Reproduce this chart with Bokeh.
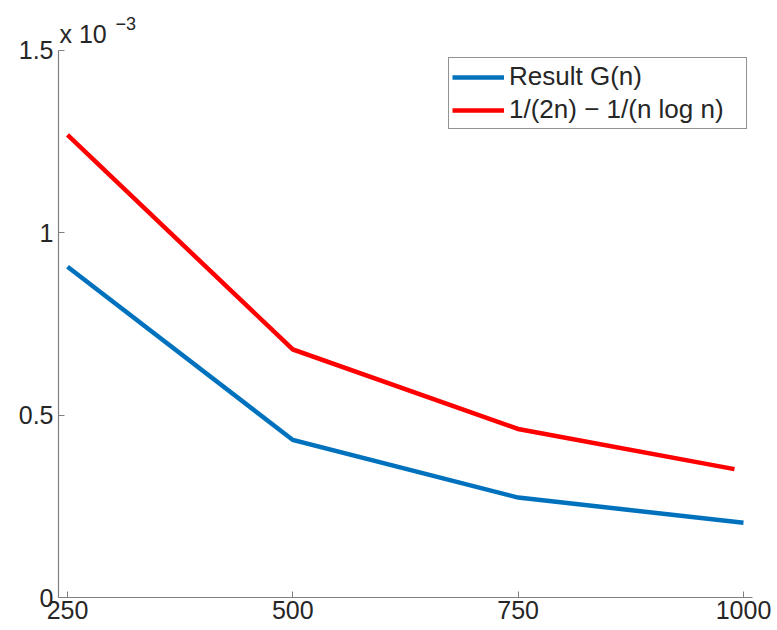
from bokeh.plotting import figure
from bokeh.models import Range1d, FixedTicker, Label, Legend, LegendItem
from bokeh.embed import file_html
from bokeh.resources import INLINE

# Data (y values in units of 1e-3)
n_blue = [250, 500, 750, 1000]
g_blue = [0.907, 0.432, 0.274, 0.205]
n_red = [250, 500, 750, 990]
g_red = [1.268, 0.680, 0.462, 0.352]
x_ticks = [250, 500, 750, 1000]
y_ticks = [0, 0.5, 1, 1.5]
y_tick_labels = ["0", "0.5", "1", "1.5"]
series_names = ["Result G(n)", "1/(2n) \u2212 1/(n log n)"]
exponent_base = "x 10"
exponent_power = "\u22123"

FONT = "Liberation Sans"
TXT = "#262626"
AX = "#808080"

X_MIN, X_MAX = 240, 1010
Y_TOP = 1.5
PX_PER_Y = 366.0
EXTRA = 40 / PX_PER_Y  # headroom above the axis for the exponent label
PX_PER_X = 694.0 / (X_MAX - X_MIN)

p = figure(width=777, height=630, output_backend="svg", toolbar_location=None,
           x_range=Range1d(X_MIN, X_MAX), y_range=Range1d(0, Y_TOP + EXTRA),
           min_border_left=58, min_border_right=25, min_border_top=10, min_border_bottom=33)
p.outline_line_color = None
p.xgrid.visible = False
p.ygrid.visible = False
p.background_fill_color = "white"
p.border_fill_color = "white"

for ax in (p.xaxis[0], p.yaxis[0]):
    ax.axis_line_color = AX
    ax.axis_line_width = 1.2
    ax.major_tick_line_color = AX
    ax.major_tick_in = 6
    ax.major_tick_out = 0
    ax.minor_tick_line_color = None
    ax.major_label_text_font = FONT
    ax.major_label_text_font_size = "25px"
    ax.major_label_text_color = TXT

p.yaxis.bounds = (0, Y_TOP)
p.xaxis.ticker = FixedTicker(ticks=x_ticks)
p.yaxis.ticker = FixedTicker(ticks=y_ticks)
p.yaxis.major_label_overrides = {t: s for t, s in zip(y_ticks, y_tick_labels)}
p.xaxis.major_label_standoff = 3
p.yaxis.major_label_standoff = 5

r_blue = p.line(n_blue, g_blue, line_color="#0072BD", line_width=4.5, line_join="miter")
r_red = p.line(n_red, g_red, line_color="#FF0000", line_width=4.5, line_join="miter")

legend = Legend(items=[LegendItem(label=series_names[0], renderers=[r_blue]),
                       LegendItem(label=series_names[1], renderers=[r_red])],
                location=(390, 468))
legend.label_text_font = FONT
legend.label_text_font_size = "26px"
legend.label_text_color = TXT
legend.border_line_color = TXT
legend.border_line_width = 1
legend.padding = 3
legend.margin = 0
legend.spacing = 2
legend.label_height = 30
legend.glyph_height = 30
legend.glyph_width = 52
legend.label_standoff = 5
legend.label_width = 234
legend.background_fill_alpha = 1.0
p.add_layout(legend, "center")

p.add_layout(Label(x=X_MIN + 1 / PX_PER_X, y=Y_TOP + 16 / PX_PER_Y, text=exponent_base,
                   text_font=FONT, text_font_size="25px", text_color=TXT,
                   text_baseline="alphabetic"))
p.add_layout(Label(x=X_MIN + 57 / PX_PER_X, y=Y_TOP + 27 / PX_PER_Y, text=exponent_power,
                   text_font=FONT, text_font_size="18px", text_color=TXT,
                   text_baseline="alphabetic"))

open("out.html", "w").write(file_html(p, INLINE))
